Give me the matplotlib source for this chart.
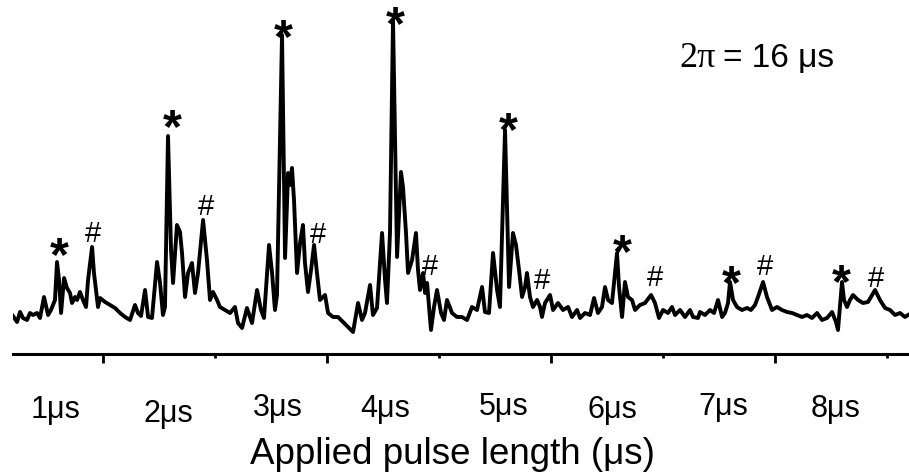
#!/usr/bin/env python3
# -*- coding: utf-8 -*-
"""
Rabi-style trace: signal vs applied pulse length, with * and # peak markers.
Result -> out.png
"""
import matplotlib
matplotlib.use("Agg")
import matplotlib.pyplot as plt
import numpy as np

# ─────────────────────── DATA ───────────────────────
# pulse length (us)
pulse_us = [
    0.607, 0.643, 0.670, 0.696, 0.732, 0.759, 0.786, 0.821, 0.848, 0.884,
    0.920, 0.946, 0.982, 1.000, 1.018, 1.036, 1.063, 1.089, 1.116, 1.134,
    1.161, 1.179, 1.205, 1.232, 1.259, 1.277, 1.313, 1.330, 1.366, 1.384,
    1.429, 1.473, 1.518, 1.563, 1.607, 1.652, 1.696, 1.723, 1.750, 1.786,
    1.813, 1.848, 1.893, 1.920, 1.946, 1.964, 1.991, 2.018, 2.036, 2.071,
    2.098, 2.116, 2.143, 2.170, 2.205, 2.232, 2.259, 2.304, 2.339, 2.366,
    2.393, 2.429, 2.455, 2.500, 2.545, 2.589, 2.616, 2.652, 2.696, 2.741,
    2.786, 2.821, 2.848, 2.893, 2.920, 2.946, 2.964, 3.009, 3.036, 3.063,
    3.080, 3.098, 3.116, 3.143, 3.170, 3.196, 3.214, 3.241, 3.268, 3.295,
    3.321, 3.348, 3.393, 3.420, 3.464, 3.509, 3.554, 3.598, 3.643, 3.688,
    3.723, 3.750, 3.795, 3.821, 3.857, 3.902, 3.929, 3.946, 3.973, 4.000,
    4.036, 4.071, 4.089, 4.116, 4.134, 4.170, 4.205, 4.223, 4.241, 4.268,
    4.286, 4.304, 4.339, 4.366, 4.393, 4.429, 4.455, 4.482, 4.527, 4.571,
    4.616, 4.661, 4.705, 4.750, 4.795, 4.821, 4.857, 4.893, 4.929, 4.955,
    5.000, 5.036, 5.071, 5.098, 5.125, 5.152, 5.179, 5.196, 5.223, 5.250,
    5.286, 5.313, 5.330, 5.357, 5.402, 5.429, 5.473, 5.518, 5.563, 5.598,
    5.643, 5.670, 5.714, 5.759, 5.795, 5.830, 5.866, 5.893, 5.920, 5.955,
    6.000, 6.018, 6.045, 6.071, 6.098, 6.134, 6.161, 6.205, 6.250, 6.304,
    6.339, 6.375, 6.411, 6.455, 6.491, 6.518, 6.563, 6.607, 6.652, 6.679,
    6.723, 6.741, 6.786, 6.830, 6.866, 6.902, 6.938, 6.964, 6.991, 7.009,
    7.036, 7.071, 7.116, 7.161, 7.196, 7.232, 7.259, 7.304, 7.339, 7.384,
    7.429, 7.473, 7.518, 7.563, 7.607, 7.652, 7.696, 7.741, 7.786, 7.830,
    7.875, 7.920, 7.955, 7.973, 8.009, 8.027, 8.054, 8.080, 8.107, 8.152,
    8.196, 8.241, 8.304, 8.348, 8.393, 8.438, 8.482, 8.527, 8.571, 8.598,
]
# signal (a.u.)
signal = [
    14, 8, 18, 12, 10, 17, 15, 17, 12, 33,
    15, 20, 30, 68, 50, 17, 52, 42, 37, 27,
    33, 30, 38, 30, 23, 50, 83, 57, 23, 32,
    28, 25, 22, 17, 13, 10, 25, 17, 14, 40,
    13, 12, 68, 47, 15, 23, 194, 80, 47, 105,
    98, 77, 33, 57, 67, 37, 57, 110, 70, 30,
    38, 30, 23, 20, 17, 23, 7, 2, 22, 7,
    40, 20, 12, 85, 57, 20, 35, 295, 72, 157,
    145, 162, 130, 57, 87, 105, 67, 38, 60, 85,
    57, 30, 35, 17, 13, 13, 8, 3, -2, 27,
    10, 17, 45, 15, 22, 97, 50, 27, 97, 310,
    73, 158, 143, 97, 57, 70, 97, 60, 40, 57,
    37, 47, 0, 23, 40, 17, 10, 30, 17, 13,
    13, 10, 23, 20, 43, 18, 17, 77, 40, 23,
    200, 43, 97, 85, 60, 33, 43, 57, 33, 23,
    30, 23, 13, 27, 35, 20, 27, 20, 23, 13,
    20, 12, 17, 15, 32, 17, 23, 43, 30, 27,
    77, 43, 13, 48, 33, 30, 20, 25, 27, 35,
    27, 12, 20, 17, 23, 15, 20, 13, 20, 13,
    12, 18, 15, 20, 17, 30, 13, 17, 27, 48,
    30, 23, 20, 22, 20, 25, 33, 48, 33, 20,
    23, 20, 18, 17, 15, 13, 15, 12, 17, 10,
    12, 18, 8, 0, 48, 30, 23, 30, 35, 30,
    27, 28, 40, 30, 22, 20, 15, 17, 13, 15,
]

# peak markers (glyph centres, data units)
star_x = [1.018, 2.027, 3.018, 4.018, 5.027, 6.045, 7.018, 8.000]
star_y = [82, 210, 300, 313, 207, 85, 54, 55]
hash_x = [1.321, 2.330, 3.330, 4.330, 5.330, 6.339, 7.321, 8.313]
hash_y = [98, 125, 97, 65, 51, 54, 65, 53]

# under-axis labels
lbl_text = ["1μs", "2μs", "3μs", "4μs", "5μs", "6μs", "7μs", "8μs"]
lbl_x = [0.99, 1.99, 2.97, 3.93, 4.99, 5.96, 6.95, 7.95]
lbl_y = [-80, -84, -78, -79, -77, -80, -77, -79]

major_ticks = [1.41, 3.41, 5.41, 7.41]
minor_ticks = [2.41, 4.41, 6.41, 8.41]

SANS = ["Liberation Sans", "DejaVu Sans"]
SERIF = ["Liberation Serif", "DejaVu Serif"]


def main():
    fig = plt.figure(figsize=(9.09, 4.76), dpi=100)
    ax = fig.add_axes([13 / 909, 1 - 354 / 476, 896 / 909, 354 / 476])

    ax.plot(pulse_us, signal, color="black", lw=2.8, solid_joinstyle="round")

    ax.set_xlim(0.607, 8.607)
    ax.set_ylim(-24, 330)

    # только нижняя ось
    for side in ("top", "right", "left"):
        ax.spines[side].set_visible(False)
    ax.spines["bottom"].set_linewidth(2.2)
    ax.set_yticks([])
    ax.set_xticks(major_ticks)
    ax.set_xticks(minor_ticks, minor=True)
    ax.tick_params(axis="x", which="major", length=6.5, width=2.0, labelbottom=False)
    ax.tick_params(axis="x", which="minor", length=3.0, width=2.0, labelbottom=False)

    # метки пиков: смещение вниз, чтобы центр глифа попал в точку
    for x, y in zip(star_x, star_y):
        ax.annotate("*", (x, y), xytext=(0, -16), textcoords="offset points",
                    ha="center", va="baseline", fontsize=35, fontweight="bold",
                    family=SANS)
    for x, y in zip(hash_x, hash_y):
        ax.annotate("#", (x, y), xytext=(0, -7.5), textcoords="offset points",
                    ha="center", va="baseline", fontsize=21, family=SANS)

    for t, x, y in zip(lbl_text, lbl_x, lbl_y):
        ax.text(x, y, t, ha="center", va="center", fontsize=22, family=SANS,
                clip_on=False)

    fig.text(452 / 909, 1 - 455 / 476, "Applied pulse length (μs)",
             ha="center", va="center", fontsize=26.5, family=SANS)

    fig.text(716 / 909, 1 - 67 / 476, "2π", ha="right", va="baseline",
             fontsize=26, family=SERIF)
    fig.text(723 / 909, 1 - 67 / 476, "= 16 μs", ha="left", va="baseline",
             fontsize=24, family=SANS)

    fig.savefig("out.png", dpi=100)


if __name__ == "__main__":
    main()
